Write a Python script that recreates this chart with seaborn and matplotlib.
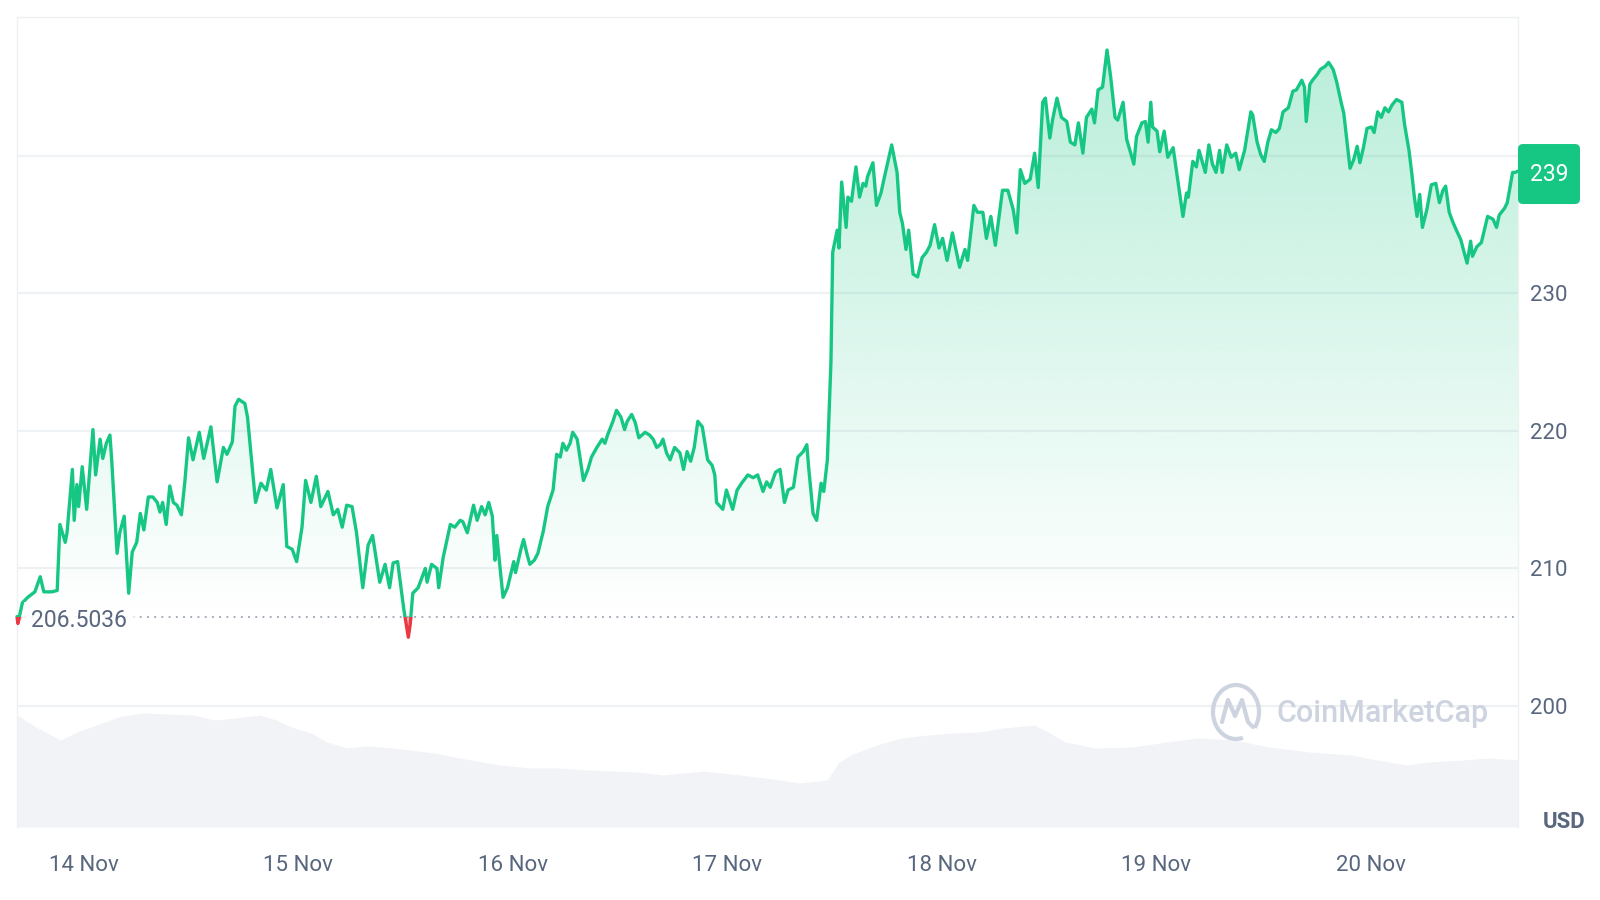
import numpy as np
import pandas as pd
import matplotlib
matplotlib.use("Agg")
import matplotlib.pyplot as plt
import seaborn as sns
from matplotlib.patches import Rectangle, FancyBboxPatch, Arc
from matplotlib.lines import Line2D
from matplotlib.colors import to_rgb
from matplotlib.transforms import IdentityTransform, blended_transform_factory

# ---------------- data (hours since 13 Nov 16:30, price in USD) ----------------
hours = [
    0.0, 0.1, 0.6, 1.2, 2.0, 2.6, 3.0, 3.9, 4.5, 4.8,
    5.4, 5.6, 6.2, 6.4, 6.7, 6.9, 7.3, 7.8, 8.5, 8.8,
    9.3, 9.6, 10.0, 10.4, 10.6, 11.2, 11.5, 12.0, 12.5, 12.9,
    13.4, 13.8, 14.2, 14.7, 15.2, 15.7, 16.0, 16.3, 16.7, 17.1,
    17.5, 17.9, 18.4, 18.8, 19.2, 19.7, 20.4, 20.9, 21.7, 22.4,
    23.1, 23.5, 24.1, 24.4, 24.8, 25.5, 25.8, 26.7, 27.3, 27.9,
    28.4, 29.1, 29.8, 30.2, 30.8, 31.3, 31.9, 32.3, 32.9, 33.5,
    34.0, 34.8, 35.4, 35.9, 36.4, 36.9, 37.5, 38.0, 38.7, 39.3,
    39.8, 40.6, 41.2, 41.7, 42.1, 42.6, 43.3, 43.8, 44.0, 44.3,
    44.9, 45.7, 45.9, 46.4, 47.0, 47.2, 47.7,
    48.5, 49.0, 49.6, 49.9, 50.4, 51.1, 51.5, 52.0, 52.4, 52.8,
    53.2, 53.5, 53.7, 54.4, 54.9, 55.6, 55.8, 56.4, 56.7, 57.1,
    57.4, 57.9, 58.3, 58.9, 59.4, 60.0, 60.4, 60.8, 61.1, 61.5,
    61.9, 62.2, 62.7, 63.0, 63.4, 63.9, 64.3, 64.9, 65.5, 65.8,
    66.1, 66.7, 67.1, 67.6, 68.0, 68.3, 68.8, 69.2, 69.6, 70.3,
    70.8, 71.2, 71.6, 72.0, 72.3, 72.7, 73.1, 73.6, 74.2, 74.6,
    75.0, 75.4, 75.8, 76.2, 76.7, 77.0, 77.3, 77.8, 78.1, 78.3,
    79.0, 79.4, 80.1, 80.6, 81.1, 81.8, 82.4, 82.9, 83.5, 83.9,
    84.3, 84.9, 85.4, 85.9, 86.3, 86.9, 87.4, 88.0, 88.4, 88.6,
    89.1, 89.5, 90.0, 90.3, 90.7, 91.1,
    91.3, 91.8, 92.0, 92.3, 92.8, 93.0, 93.4, 93.9, 94.3, 94.7,
    95.0, 95.2, 95.8, 96.2, 96.7, 97.1, 97.9, 98.5, 98.8, 99.1,
    99.5, 99.8, 100.3, 100.8, 101.3, 101.8, 102.2, 102.7, 103.2, 103.6,
    104.1, 104.7, 105.5, 106.1, 106.4, 107.1, 107.5, 108.1, 108.5, 109.0,
    109.5, 110.3, 110.9, 111.5, 111.9, 112.3, 112.8, 113.4, 113.9, 114.3,
    114.8, 115.1, 115.6, 115.9, 116.4, 116.9, 117.5, 117.9, 118.4, 118.8,
    119.3, 119.7, 120.3, 120.6, 121.0, 121.5, 122.0, 122.4, 122.9, 123.2,
    123.8, 124.2, 124.7, 125.0, 125.3, 125.9, 126.3, 126.6, 126.9, 127.1,
    127.6, 127.9, 128.4, 128.8, 129.4, 129.8, 130.1, 130.5, 130.9, 131.1,
    131.6, 132.0, 132.3, 132.7, 133.0, 133.4, 133.8, 134.2, 134.6, 134.9,
    135.4, 135.9, 136.4, 136.8, 137.4, 138.1, 138.3, 138.8, 139.2, 139.6,
    140.0, 140.4, 140.9, 141.3, 141.7, 142.3, 142.8, 143.2, 143.8, 144.1,
    144.3, 144.7, 145.0, 145.5, 145.9, 146.4, 146.8, 147.3, 147.7, 148.2,
    148.5, 148.8, 149.2, 149.6, 150.0, 150.3, 150.7, 151.1, 151.6, 151.9,
    152.3, 152.7, 153.1, 153.5, 153.9, 154.4, 155.0, 155.3, 155.8, 156.1,
    156.4, 156.7, 157.0, 157.3, 157.8, 158.3, 158.8, 159.2, 159.6, 159.9,
    160.3, 160.7, 161.1, 161.6, 161.8, 162.3, 162.7, 162.9, 163.4, 163.9,
    164.2, 164.6, 165.2, 165.6, 165.9, 166.5, 166.8, 167.4, 167.7, 168.0,
]
prices = [
    206.5, 206.0, 207.5, 207.9, 208.3, 209.4, 208.3, 208.3, 208.4, 213.2,
    211.9, 212.6, 217.2, 213.5, 216.1, 214.5, 217.4, 214.3, 220.1, 216.8,
    219.4, 218.0, 219.1, 219.7, 217.9, 211.1, 212.6, 213.8, 208.2, 211.2,
    211.9, 214.0, 212.8, 215.2, 215.2, 214.8, 214.1, 214.8, 213.2, 216.0,
    214.8, 214.6, 213.9, 216.4, 219.5, 217.9, 219.9, 218.0, 220.3, 216.3,
    218.8, 218.3, 219.2, 221.8, 222.3, 222.0, 221.0, 214.8, 216.2, 215.7,
    217.2, 214.4, 216.1, 211.6, 211.4, 210.5, 213.0, 216.4, 214.8, 216.7,
    214.5, 215.6, 213.9, 214.3, 213.0, 214.6, 214.5, 212.6, 208.6, 211.7,
    212.4, 209.0, 210.3, 208.6, 210.4, 210.5, 207.0, 205.0, 205.9, 208.2,
    208.6, 210.0, 209.0, 210.3, 210.0, 208.6, 210.8,
    213.2, 213.0, 213.5, 213.4, 212.6, 214.6, 213.5, 214.5, 213.9, 214.8,
    213.8, 210.6, 212.4, 207.9, 208.6, 210.5, 209.7, 211.4, 212.1, 211.0,
    210.3, 210.6, 211.1, 212.7, 214.5, 215.7, 218.3, 218.1, 219.1, 218.6,
    219.1, 219.9, 219.4, 218.1, 216.4, 217.2, 218.1, 218.8, 219.4, 219.1,
    219.7, 220.7, 221.5, 221.0, 220.1, 220.7, 221.2, 220.6, 219.5, 219.9,
    219.7, 219.4, 218.8, 219.0, 219.4, 218.4, 217.9, 218.8, 218.4, 217.2,
    218.5, 217.8, 218.8, 220.7, 220.3, 219.1, 217.9, 217.5, 216.8, 214.8,
    214.3, 215.7, 214.3, 215.7, 216.2, 216.8, 216.6, 216.8, 215.6, 216.3,
    215.9, 217.0, 217.2, 214.8, 215.7, 215.9, 218.1, 218.5, 219.0, 217.4,
    214.0, 213.5, 216.2, 215.6, 217.9, 225.0,
    233.0, 234.6, 233.3, 238.1, 234.8, 237.0, 236.7, 239.2, 237.0, 238.0,
    237.8, 238.5, 239.5, 236.4, 237.3, 238.5, 240.8, 238.8, 235.9, 235.1,
    233.2, 234.6, 231.4, 231.2, 232.6, 233.0, 233.5, 235.0, 233.3, 234.0,
    232.4, 234.4, 231.9, 233.2, 232.4, 236.4, 235.9, 235.9, 234.0, 235.6,
    233.5, 237.5, 237.5, 236.1, 234.4, 239.0, 238.0, 238.3, 240.2, 237.7,
    243.9, 244.2, 241.3, 242.6, 244.2, 242.8, 242.5, 241.0, 240.8, 242.4,
    240.2, 242.8, 243.4, 242.4, 244.8, 245.0, 247.7, 245.8, 242.8, 242.6,
    243.9, 241.2, 240.1, 239.4, 241.4, 242.4, 242.5, 241.0, 243.9, 242.1,
    241.8, 240.3, 241.8, 239.9, 240.6, 238.8, 237.5, 235.6, 237.3, 237.0,
    239.6, 239.2, 240.4, 239.5, 238.8, 240.8, 239.4, 238.8, 240.4, 238.8,
    240.8, 239.9, 240.2, 239.0, 240.4, 243.2, 243.0, 241.0, 240.1, 239.6,
    241.0, 241.9, 241.7, 242.0, 243.2, 243.5, 244.7, 244.8, 245.5, 245.0,
    242.5, 245.2, 245.5, 245.9, 246.3, 246.5, 246.8, 246.3, 245.4, 243.9,
    243.1, 241.4, 239.1, 239.7, 240.7, 239.5, 240.6, 242.0, 242.1, 241.7,
    243.2, 242.8, 243.5, 243.2, 243.7, 244.1, 243.9, 242.3, 240.4, 238.8,
    237.0, 235.6, 237.2, 234.8, 236.1, 237.9, 238.0, 236.6, 237.5, 237.8,
    235.9, 235.2, 234.6, 233.9, 233.4, 232.2, 233.8, 232.7, 233.4, 233.7,
    234.5, 235.6, 235.4, 234.8, 235.7, 236.2, 236.6, 238.8, 238.8, 238.9,
]
vol_hours = [0.0, 2.1, 4.9, 6.7, 9.5, 11.7, 14.1, 19.8, 22.0, 24.4,
             27.2, 29.0, 30.7, 32.9, 34.7, 36.9, 39.2, 42.1, 46.7, 49.5,
             54.0, 57.5, 60.9, 63.8, 69.5, 72.3, 76.9, 80.9, 83.7, 87.6,
             90.7, 91.9, 93.3, 96.2, 99.0, 101.9, 104.7, 107.6, 110.4, 113.9,
             115.6, 117.3, 120.7, 124.8, 128.7, 132.2, 136.2, 140.1, 144.7, 149.3,
             152.2, 155.5, 157.9, 161.8, 164.7, 168.0]
volumes = [224, 200, 174, 190, 208, 222, 228, 224, 214, 218,
           224, 214, 200, 188, 170, 158, 162, 158, 148, 138,
           124, 118, 118, 114, 110, 104, 112, 104, 98, 88,
           94, 128, 144, 164, 178, 184, 188, 190, 198, 204,
           188, 170, 158, 160, 170, 178, 174, 160, 150, 144,
           134, 124, 130, 134, 138, 134]
base_price = 206.5036
day_ticks = [7.5, 31.5, 55.5, 79.5, 103.5, 127.5, 151.5]
day_labels = ["14 Nov", "15 Nov", "16 Nov", "17 Nov", "18 Nov", "19 Nov", "20 Nov"]
y_ticks = [200, 210, 220, 230, 240]
y_labels = ["200", "210", "220", "230", ""]

GREEN = "#16c784"
RED = "#ea3943"
TXT = "#58667e"
GRID = "#eff2f5"

sns.set_theme(style="white")
plt.rcParams["font.family"] = ["Roboto", "DejaVu Sans"]

fig = plt.figure(figsize=(16, 9), dpi=100)
pos = [17 / 1600, 73 / 900, 1501 / 1600, 810 / 900]
axv = fig.add_axes(pos)
ax = fig.add_axes(pos)
ax.patch.set_visible(False)

# ---- volume area ----
dv = pd.DataFrame({"h": vol_hours, "v": volumes})
axv.fill_between(dv["h"], dv["v"], 0, color="#f1f3f6", lw=0)
axv.set_xlim(0, 168)
axv.set_ylim(0, 1620)
axv.axis("off")

# ---- price ----
df = pd.DataFrame({"h": hours, "p": prices})
h = df["h"].to_numpy()
p = df["p"].to_numpy()

up = np.maximum(p, base_price)
dn = np.minimum(p, base_price)
poly = ax.fill_between(h, up, base_price, facecolor="none", edgecolor="none", lw=0)
clip = poly.get_paths()[0]
grad = np.zeros((256, 1, 4))
grad[..., :3] = to_rgb(GREEN)
grad[:, 0, 3] = np.linspace(0.0, 0.30, 256)
im = ax.imshow(grad, extent=[0, 168, base_price, p.max()], origin="lower",
               aspect="auto", zorder=1, interpolation="bilinear")
im.set_clip_path(clip, ax.transData)
ax.fill_between(h, dn, base_price, color=RED, alpha=0.35, lw=0, zorder=1)

ax.axhline(base_price, color="#9aa3b2", lw=1.3, ls=(0, (1, 3)), zorder=2)

sns.lineplot(data=df, x="h", y="p", ax=ax, color=GREEN, lw=2.4,
             estimator=None, sort=False, zorder=3)
lg = ax.lines[-1]
lg.set_clip_path(Rectangle((-50, base_price), 300, 300, transform=ax.transData))
sns.lineplot(data=df, x="h", y="p", ax=ax, color=RED, lw=2.4,
             estimator=None, sort=False, zorder=3)
lr = ax.lines[-1]
lr.set_clip_path(Rectangle((-50, base_price - 300), 300, 300, transform=ax.transData))

ax.set_xlim(0, 168)
ax.set_ylim(191.2, 250.1)
ax.set_xlabel("")
ax.set_ylabel("")

ax.set_xticks(day_ticks)
ax.set_xticklabels(day_labels)
ax.set_yticks(y_ticks)
ax.set_yticklabels(y_labels)
ax.yaxis.tick_right()
ax.tick_params(axis="y", length=0, pad=8.6, labelsize=16, labelcolor=TXT)
ax.tick_params(axis="x", length=0, pad=20, labelsize=16, labelcolor=TXT)
ax.grid(axis="y", color=GRID, lw=1.6)
ax.grid(axis="x", visible=False)
for s in ["top", "left", "right"]:
    ax.spines[s].set_visible(True)
    ax.spines[s].set_color("#eef0f3")
    ax.spines[s].set_linewidth(1.0)
ax.spines["bottom"].set_visible(False)

# baseline label
tr = blended_transform_factory(ax.transAxes, ax.transData)
ax.annotate(f"{base_price}", xy=(0.0093, base_price), xycoords=tr,
            xytext=(0, -3.5), textcoords="offset pixels", ha="left", va="center",
            fontsize=16.5, color=TXT, zorder=6,
            bbox=dict(boxstyle="square,pad=0.3", fc="white", ec="none", alpha=0.85))

# last price box
yd = ax.transData.transform((0, p[-1]))[1] - 3
xr = ax.transAxes.transform((1, 0))[0]
box = FancyBboxPatch((xr, yd - 30), 62, 60, boxstyle="round,pad=0,rounding_size=5",
                     transform=IdentityTransform(), fc=GREEN, ec="none", zorder=10)
fig.add_artist(box)
fig.text(xr + 31, yd, f"{round(p[-1])}", transform=IdentityTransform(), ha="center",
         va="center", fontsize=16.5, color="white", zorder=11)

fig.text(1564 / 1600, 1 - 822 / 900, "USD", ha="center", va="center", fontsize=16,
         fontweight="bold", color=TXT)

# watermark
WM = "#cdd4e0"
fig.text(1277 / 1600, 1 - 713 / 900, "CoinMarketCap", ha="left", va="center",
         fontsize=22, color=WM, fontweight="medium")
fig.add_artist(Arc((1236, 900 - 712), 46, 54, theta1=-40, theta2=285,
                   transform=IdentityTransform(), color=WM, lw=3))
fig.add_artist(Line2D([1222, 1228, 1235, 1242, 1248, 1253],
                      [900 - 722, 900 - 700, 900 - 716, 900 - 700, 900 - 722, 900 - 727],
                      transform=IdentityTransform(), color=WM, lw=3))

fig.savefig("out.png", dpi=100, facecolor="white")
